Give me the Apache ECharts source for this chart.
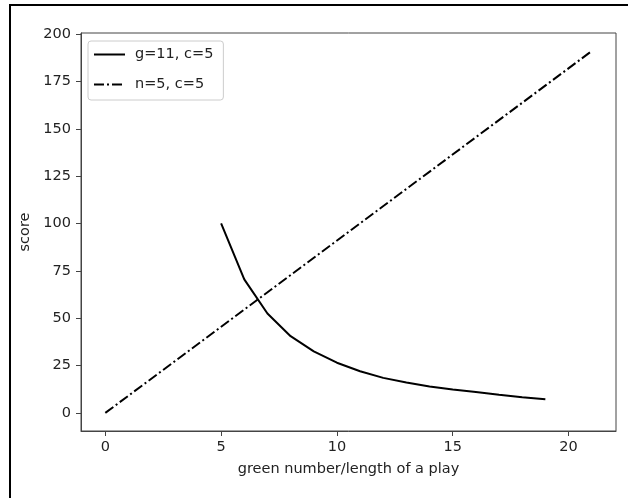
<!DOCTYPE html>
<html>
<head>
<meta charset="utf-8">
<script src="https://cdn.jsdelivr.net/npm/echarts@6/dist/echarts.min.js"></script>
<style>
html,body{margin:0;padding:0;background:#fff;}
#c{width:628px;height:498px;}
</style>
</head>
<body>
<div id="c"></div>
<script>
const xTicks = [0, 5, 10, 15, 20];
const yTicks = [0, 25, 50, 75, 100, 125, 150, 175, 200];
const gX = [5, 6, 7, 8, 9, 10, 11, 12, 13, 14, 15, 16, 17, 18, 19];
const gY = [100, 70.5, 52.5, 40.5, 32.5, 26.5, 22, 18.5, 16, 14, 12.3, 11, 9.6, 8.3, 7.2];
const nX = [0, 21];
const nY = [0, 191];
const seriesNames = ['g=11, c=5', 'n=5, c=5'];

const pair = (xs, ys) => xs.map((x, i) => [x, ys[i]]);
const txt = '#222';
const axisCol = '#444';
const font = 'DejaVu Sans';
const fs = 14.5;

const chart = echarts.init(document.getElementById('c'), null, {renderer: 'canvas'});
chart.setOption({
  animation: false,
  backgroundColor: '#fff',
  textStyle: {fontFamily: font, color: txt},
  grid: {left: 81, top: 33, right: 12, bottom: 67, show: true, borderColor: axisCol, borderWidth: 1, backgroundColor: '#fff'},
  graphic: [
    {type: 'line', shape: {x1: 10, y1: 5, x2: 628, y2: 5}, style: {stroke: '#000', lineWidth: 2}, z: 100},
    {type: 'line', shape: {x1: 10, y1: 4, x2: 10, y2: 498}, style: {stroke: '#000', lineWidth: 2}, z: 100}
  ],
  legend: {
    orient: 'vertical',
    left: 88, top: 41,
    padding: [6, 10, 8, 5],
    itemGap: 15,
    itemWidth: 31,
    itemHeight: 14,
    borderColor: '#ccc', borderWidth: 1, borderRadius: 3,
    backgroundColor: '#fff',
    itemStyle: {opacity: 0},
    textStyle: {fontFamily: font, fontSize: fs, color: txt, padding: [0, 0, 0, 5]},
    data: seriesNames
  },
  xAxis: {
    type: 'value', min: -1.05, max: 22.05,
    name: 'green number/length of a play', nameLocation: 'middle', nameGap: 31,
    nameTextStyle: {fontFamily: font, fontSize: fs, color: txt},
    splitLine: {show: false},
    axisLine: {show: true, onZero: false, lineStyle: {color: axisCol, width: 1}},
    axisTick: {show: true, inside: false, length: 5, lineStyle: {color: axisCol}, customValues: xTicks},
    axisLabel: {fontFamily: font, fontSize: fs, color: txt, margin: 9, customValues: xTicks}
  },
  yAxis: {
    type: 'value', min: -9.55, max: 200.55,
    name: 'score', nameLocation: 'middle', nameGap: 47,
    nameTextStyle: {fontFamily: font, fontSize: fs, color: txt},
    splitLine: {show: false},
    axisLine: {show: true, onZero: false, lineStyle: {color: axisCol, width: 1}},
    axisTick: {show: true, inside: false, length: 5, lineStyle: {color: axisCol}, customValues: yTicks},
    axisLabel: {fontFamily: font, fontSize: fs, color: txt, margin: 10, customValues: yTicks}
  },
  series: [
    {name: seriesNames[0], type: 'line', data: pair(gX, gY), symbol: 'none', smooth: false,
     lineStyle: {color: '#000', width: 2}, itemStyle: {color: '#000'}},
    {name: seriesNames[1], type: 'line', data: pair(nX, nY), symbol: 'none',
     lineStyle: {color: '#000', width: 2, type: [10, 3, 2, 3]}, itemStyle: {color: '#000'}}
  ]
});
</script>
</body>
</html>
